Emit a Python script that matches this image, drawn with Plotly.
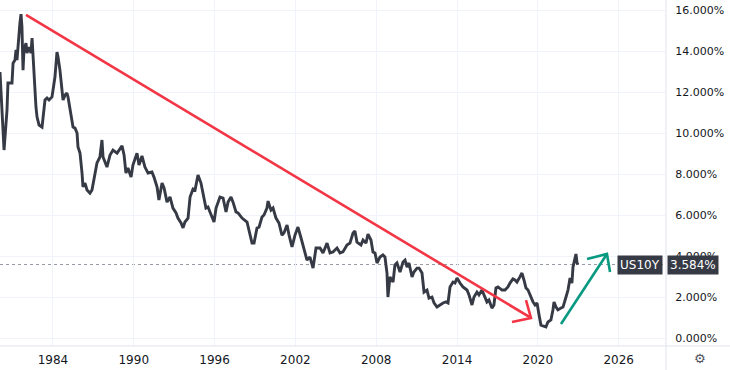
import plotly.graph_objects as go

# ---- data (decimal year, yield %) ----
years = [
    1980.07, 1980.37, 1980.59, 1980.66, 1980.96, 1981.04, 1981.18, 1981.26, 1981.33, 1981.41,
    1981.55, 1981.63, 1981.70, 1981.78, 1981.85, 1982.00, 1982.07, 1982.22, 1982.37, 1982.45,
    1982.52, 1982.59, 1982.74, 1982.82, 1982.97, 1983.19, 1983.26, 1983.41, 1983.56, 1983.71,
    1983.93, 1984.00, 1984.15, 1984.30, 1984.38, 1984.52, 1984.75, 1984.90, 1985.04, 1985.12,
    1985.27, 1985.42, 1985.49, 1985.64, 1985.79, 1985.86, 1986.01, 1986.16, 1986.23, 1986.38,
    1986.53, 1986.75, 1986.90, 1987.27, 1987.49, 1987.64, 1987.72, 1988.01, 1988.24,
    1988.46, 1988.76, 1989.13, 1989.28, 1989.42, 1989.57, 1989.80, 1989.94, 1990.24, 1990.39,
    1990.61, 1990.83, 1991.06, 1991.35, 1991.50, 1991.73, 1991.87, 1992.10, 1992.25, 1992.47,
    1992.69, 1992.91, 1993.14, 1993.28, 1993.51, 1993.66, 1993.80, 1994.03, 1994.18, 1994.40,
    1994.55, 1994.77, 1994.99, 1995.14, 1995.36, 1995.51, 1995.81, 1995.96, 1996.11, 1996.40,
    1996.63, 1996.85, 1997.00, 1997.22, 1997.37, 1997.59, 1997.74, 1998.04, 1998.41, 1998.56,
    1998.78, 1998.93, 1999.15, 1999.30, 1999.52, 1999.67, 1999.89, 1999.97, 2000.19, 2000.34,
    2000.56, 2000.78, 2001.00, 2001.15, 2001.38, 2001.53, 2001.75, 2001.97, 2002.19, 2002.42,
    2002.56, 2002.71, 2002.86, 2003.08, 2003.31, 2003.53, 2003.83, 2004.05, 2004.35, 2004.57,
    2004.79, 2005.09, 2005.31, 2005.53, 2005.83, 2006.05, 2006.28, 2006.42, 2006.57, 2006.87,
    2007.02, 2007.24, 2007.39, 2007.61, 2007.76, 2007.91, 2008.06, 2008.28, 2008.50, 2008.65,
    2008.80, 2008.87, 2009.02, 2009.25, 2009.39, 2009.54, 2009.77, 2009.99, 2010.14, 2010.29,
    2010.43, 2010.66, 2010.80, 2011.03, 2011.18, 2011.40, 2011.55, 2011.77, 2011.92, 2012.14,
    2012.29, 2012.51, 2012.74, 2012.96, 2013.18, 2013.33, 2013.48, 2013.70, 2013.85, 2014.00,
    2014.22, 2014.44, 2014.74, 2014.89, 2015.11, 2015.26, 2015.48, 2015.63, 2015.85, 2016.00,
    2016.22, 2016.37, 2016.59, 2016.74, 2016.89, 2017.04, 2017.34, 2017.56, 2017.78,
    2017.93, 2018.15, 2018.30, 2018.45, 2018.67, 2018.82, 2018.97, 2019.12, 2019.27, 2019.49,
    2019.64, 2019.79, 2019.94, 2020.09, 2020.23, 2020.38, 2020.60, 2020.75, 2020.97, 2021.12,
    2021.20, 2021.35, 2021.49, 2021.72, 2021.87, 2022.09, 2022.24, 2022.39, 2022.53, 2022.61,
    2022.76, 2022.83, 2022.91, 2022.98,
]
yields = [
    12.98, 9.17, 11.12, 12.44, 12.44, 13.41, 13.56, 14.05, 13.56, 14.39,
    15.37, 15.80, 15.17, 13.07, 14.05, 14.39, 13.90, 14.19, 13.90, 14.63,
    13.80, 12.44, 11.27, 10.78, 10.39, 10.29, 10.78, 11.61, 11.71, 11.61,
    11.76, 12.10, 12.73, 13.95, 13.71, 13.07, 11.61, 11.85, 11.95, 11.76,
    11.12, 10.49, 10.29, 10.24, 10.00, 9.32, 9.02, 8.05, 7.37, 7.56,
    7.22, 7.07, 7.22, 8.54, 8.83, 9.66, 8.83, 8.34, 8.93,
    9.17, 9.02, 9.37, 8.93, 8.05, 8.29, 7.85, 8.44, 9.02, 8.44,
    8.88, 8.34, 8.05, 8.10, 7.85, 7.37, 6.73, 7.56, 7.32, 6.63,
    6.88, 6.34, 6.10, 5.85, 5.61, 5.37, 5.66, 5.85, 6.88, 7.27,
    7.22, 7.95, 7.56, 7.07, 6.34, 6.39, 5.85, 5.66, 6.34, 6.88,
    6.83, 6.15, 6.63, 6.88, 6.63, 6.15, 6.10, 5.85, 5.66, 5.27,
    4.63, 4.63, 5.37, 5.41, 5.90, 6.00, 6.34, 6.68, 6.24, 6.34,
    5.85, 5.61, 5.02, 5.12, 5.51, 5.02, 4.44, 5.02, 5.41, 4.88,
    4.54, 4.05, 3.80, 3.95, 3.41, 4.39, 4.39, 4.15, 4.63, 4.15,
    4.20, 4.39, 4.15, 4.20, 4.54, 4.63, 5.12, 5.22, 4.68, 4.54,
    4.78, 4.63, 5.07, 4.78, 4.20, 4.15, 3.66, 3.95, 4.05, 3.95,
    3.17, 2.00, 2.98, 2.73, 3.56, 3.66, 3.22, 3.71, 3.80, 3.46,
    3.66, 2.98, 3.22, 3.41, 3.41, 3.17, 2.24, 2.34, 1.95, 2.00,
    1.71, 1.51, 1.61, 1.71, 1.76, 1.71, 2.49, 2.73, 2.68, 2.93,
    2.68, 2.49, 2.34, 2.10, 1.61, 2.00, 2.24, 2.10, 2.34, 2.10,
    1.76, 1.85, 1.46, 1.61, 2.44, 2.49, 2.34, 2.34, 2.49,
    2.68, 2.88, 2.83, 2.73, 2.98, 3.17, 2.83, 2.44, 2.34, 1.95,
    1.76, 1.61, 1.71, 1.12, 0.63, 0.59, 0.54, 0.78, 0.88, 1.37,
    1.76, 1.51, 1.37, 1.46, 1.51, 2.00, 2.34, 2.93, 2.68, 3.46,
    3.95, 4.10, 3.66, 3.584,
]
symbol = "US10Y"
last_value = 3.584

x_ticks = [1984, 1990, 1996, 2002, 2008, 2014, 2020, 2026]
y_ticks = [0, 2, 4, 6, 8, 10, 12, 14, 16]

# drawn trend arrows: (x, y) points
red_line = [(1982.00, 15.76), (2019.49, 0.98)]
red_head = [(2019.12, 1.85), (2019.49, 0.98), (2018.08, 0.78)]
green_line = [(2021.72, 0.68), (2025.13, 4.10)]
green_head = [(2023.65, 3.85), (2025.13, 4.10), (2025.36, 3.22)]

x_range = [1980.07, 2029.44]
y_range = [-0.39, 16.49]

LINE = "#363a45"
GRID = "#f0f3fa"
SEP = "#e0e3eb"
TXT = "#131722"
FONT = "DejaVu Sans"

fig = go.Figure()
fig.add_trace(go.Scatter(
    x=years, y=yields, mode="lines",
    line=dict(color=LINE, width=2.9), hoverinfo="skip", showlegend=False,
))


def path_of(pts):
    return "M " + " L ".join(f"{x},{y}" for x, y in pts)


shapes = [
    # last price dotted line
    dict(type="line", xref="paper", x0=0, x1=1, yref="y", y0=last_value, y1=last_value,
         line=dict(color="#9598a1", width=1, dash="dot"), layer="below"),
    # red trend arrow
    dict(type="path", path=path_of(red_line), xref="x", yref="y",
         line=dict(color="#f23645", width=2.6)),
    dict(type="path", path=path_of(red_head), xref="x", yref="y",
         line=dict(color="#f23645", width=2.6)),
    # green trend arrow
    dict(type="path", path=path_of(green_line), xref="x", yref="y",
         line=dict(color="#089981", width=2.6)),
    dict(type="path", path=path_of(green_head), xref="x", yref="y",
         line=dict(color="#089981", width=2.6)),
    # separators
    dict(type="line", xref="paper", x0=1.0015, x1=1.0015, yref="paper", y0=-0.08, y1=1,
         line=dict(color=SEP, width=1)),
    dict(type="line", xref="paper", x0=0, x1=1.1, yref="paper", y0=0, y1=0,
         line=dict(color=SEP, width=1)),
]

annotations = [
    dict(xref="paper", x=0.997, yref="y", y=last_value, xanchor="right", yanchor="middle",
         text=symbol, showarrow=False, bgcolor=LINE, borderpad=2,
         font=dict(family=FONT, size=12, color="white")),
    dict(xref="paper", x=1.003, yref="y", y=last_value, xanchor="left", yanchor="middle",
         text=f"{last_value:.3f}%", showarrow=False, bgcolor=LINE, borderpad=2,
         font=dict(family=FONT, size=12, color="white")),
    dict(xref="paper", x=1.0526, yref="paper", y=-0.035, xanchor="center", yanchor="middle",
         text="⚙", showarrow=False, font=dict(family=FONT, size=13, color="#50535e")),
]

fig.update_layout(
    width=730, height=370,
    margin=dict(l=0, r=65, t=0, b=24, autoexpand=False),
    paper_bgcolor="white", plot_bgcolor="white",
    shapes=shapes, annotations=annotations,
    showlegend=False,
    xaxis=dict(range=x_range, tickmode="array", tickvals=x_ticks,
               ticktext=[str(t) for t in x_ticks], automargin=False,
               showgrid=True, gridcolor=GRID, gridwidth=1, zeroline=False,
               showline=False, ticks="outside", ticklen=3, tickcolor="rgba(0,0,0,0)",
               tickfont=dict(family=FONT, size=12, color=TXT), fixedrange=True),
    yaxis=dict(range=y_range, side="right", tickmode="array", tickvals=y_ticks,
               ticktext=[f"{t:.3f}%" for t in y_ticks], automargin=False,
               showgrid=True, gridcolor=GRID, gridwidth=1, zeroline=False,
               showline=False, ticks="outside", ticklen=7, tickcolor="rgba(0,0,0,0)",
               tickfont=dict(family=FONT, size=11, color=TXT), fixedrange=True),
)

fig.write_html("out.html", config={"displayModeBar": False})

# remove the browser's default page margin so the figure fills the 730x370 window
with open("out.html", encoding="utf-8") as f:
    html = f.read()
html = html.replace("<head>", "<head><style>html,body{margin:0;padding:0;overflow:hidden;}</style>", 1)
with open("out.html", "w", encoding="utf-8") as f:
    f.write(html)
